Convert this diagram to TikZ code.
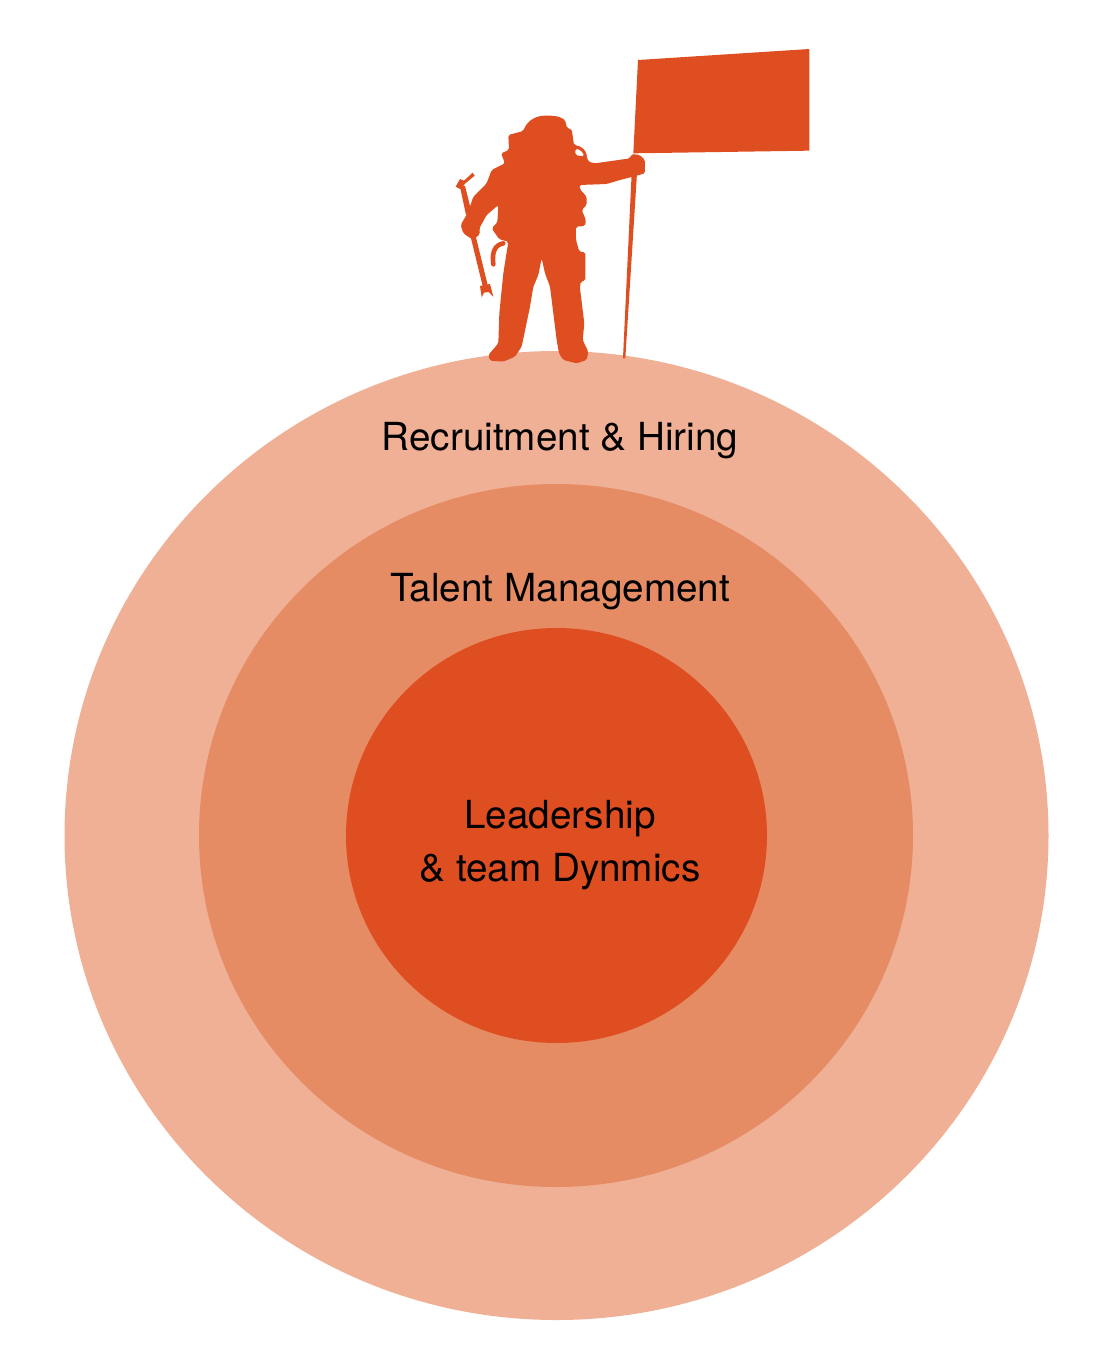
\documentclass[tikz,border=0pt]{standalone}
\usepackage{fontspec}
\setmainfont{TeX Gyre Heros}
\usepackage{tikz}
\usetikzlibrary{positioning}
\definecolor{ringout}{HTML}{F0B095}
\definecolor{ringmid}{HTML}{E58C65}
\definecolor{ringin}{HTML}{DF4E21}
\tikzstyle{lab}=[text=black,font=\fontsize{22pt}{30pt}\selectfont,align=center,inner sep=0pt]
\tikzstyle{sil}=[fill=ringin,draw=none]

\begin{document}
\begin{tikzpicture}[x=0.02cm,y=-0.02cm]
\useasboundingbox (0,0) rectangle (1110,1350);

%rings
\fill[ringout] (556.5,835.5) ellipse (492 and 484.5);
\fill[ringmid] (556,835.5) ellipse (357 and 351.5);
\fill[ringin] (556.5,835.5) ellipse (210.5 and 207.5);

%labels
\node[lab] (recruit) at (560,441) {Recruitment \& Hiring};
\node[lab] (talent) at (560,592) {Talent Management};
\node[lab] (leader) at (560,845) {Leadership\\\& team Dynmics};

%astronaut, traced on a 3x grid
\begin{scope}[shift={(440,30)},x=0.02cm/3,y=-0.02cm/3]
%flag
\fill[sil] (594,90) -- (1108,57) -- (1108,362) -- (580,370) -- cycle;
%pole
\fill[sil] (575,430) -- (591,430) -- (556,985) -- (549,985) -- cycle;

%body
\fill[sil,rounded corners=1pt,even odd rule] (250,303) .. controls (262,270) and (290,257) .. (320,257)
 .. controls (350,257) and (372,262) .. (378,280) -- (381,295) -- (395,297) -- (402,345)
 .. controls (425,348) and (438,362) .. (440,378) -- (445,395) -- (465,400) -- (570,385) -- (575,372)
 -- (600,375) -- (615,390) -- (615,430) -- (590,437) -- (540,450) -- (500,462) -- (418,465) -- (420,478)
 -- (440,500) -- (440,525) -- (425,540) -- (438,570) -- (435,588) -- (408,590) -- (408,630) -- (418,665)
 -- (436,667) -- (436,752) -- (422,755) -- (420,775) -- (433,880) -- (428,930) -- (445,965) -- (440,990)
 -- (410,1000) -- (370,990) -- (357,970) -- (350,930) -- (330,770) -- (315,730) -- (305,685) -- (295,735)
 -- (280,770) -- (270,830) -- (245,950) -- (225,980) -- (190,995) -- (150,992) -- (145,975) -- (175,940)
 -- (178,850) -- (190,730) -- (205,635) -- (178,628) -- (155,595) -- (172,578) -- (175,525) -- (140,555)
 -- (118,595) -- (120,612) -- (100,630) -- (70,610) -- (62,585) -- (85,545) -- (100,500) -- (140,460)
 -- (155,420) -- (195,400) -- (183,370) -- (207,360) -- (205,315) -- cycle
 (406,356) .. controls (420,358) and (430,368) .. (432,380) -- (406,375) -- cycle;

%hose
\draw[ringin,line width=2.6pt,line cap=round] (190,640) .. controls (165,645) and (155,665) .. (160,703);

%wrench
\fill[sil] (60,470) -- (75,468) -- (93,540) -- (78,555) -- cycle;
\fill[sil] (93,625) -- (108,622) -- (143,765) -- (128,768) -- cycle;
\fill[sil] (47,470) -- (60,447) -- (72,452) -- (98,428) -- (104,437) -- (76,460) -- (62,478) -- cycle;
\fill[sil] (120,768) -- (150,762) -- (160,800) -- (146,786) -- (132,788) -- (125,802) -- cycle;
\end{scope}
\end{tikzpicture}
\end{document}
